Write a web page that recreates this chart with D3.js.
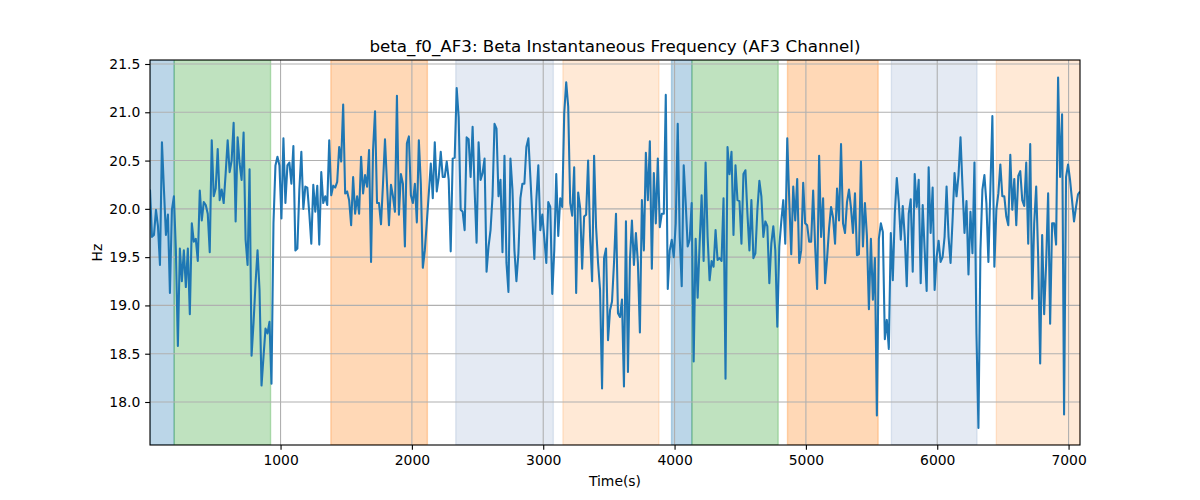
<!DOCTYPE html>
<html><head><meta charset="utf-8">
<script src="https://cdn.jsdelivr.net/npm/d3@7"></script>
<style>body{margin:0;background:#fff} text{font-family:"DejaVu Sans",sans-serif;fill:#000}</style>
</head><body><svg id="c" width="1200" height="500"></svg>
<script>
const TITLE = "beta_f0_AF3: Beta Instantaneous Frequency (AF3 Channel)";
const X_LABEL = "Time(s)";
const Y_LABEL = "Hz";
const T_START = 6, T_END = 7087;
const freq = [
20.20,19.71,19.73,19.99,19.82,19.42,20.69,20.20,19.73,19.94,
19.13,19.99,20.13,19.57,18.58,19.59,19.25,19.57,19.19,19.59,
18.91,19.85,19.66,19.69,19.46,20.19,19.88,20.07,20.04,19.95,
19.55,20.71,20.13,20.21,20.62,20.09,20.20,20.06,20.37,20.71,
20.38,20.50,20.89,19.87,20.74,20.47,20.30,20.79,19.68,19.42,
20.41,18.48,18.82,19.23,19.57,19.16,18.17,18.47,18.76,18.71,
18.83,18.19,19.85,20.45,20.54,20.45,19.90,20.73,20.06,20.45,
20.48,20.26,20.65,19.57,19.59,20.20,20.59,20.00,20.23,20.22,
19.95,19.64,20.25,19.97,20.24,19.63,20.38,20.06,20.13,20.04,
20.71,20.14,20.24,20.22,20.28,20.64,
20.49,21.08,20.16,20.18,20.09,19.83,20.33,19.95,20.13,19.95,
20.54,20.16,20.35,20.23,20.61,19.45,20.61,21.01,20.06,20.06,
19.84,20.26,20.72,20.26,19.83,20.25,20.13,19.97,21.17,19.94,
20.36,20.26,19.61,20.68,20.75,20.14,20.06,20.26,19.86,20.71,
20.26,19.39,19.57,19.86,20.16,20.47,20.11,20.69,20.18,20.33,
20.59,20.33,20.33,20.49,20.30,19.56,20.52,20.53,21.25,20.95,
19.99,19.97,19.78,20.74,20.72,20.33,20.85,20.20,19.65,20.69,
20.30,20.37,20.52,19.35,19.61,19.78,20.13,20.88,20.83,20.13,
20.30,19.55,20.55,19.44,19.14,20.52,20.20,19.57,19.25,19.54,
20.11,20.26,20.26,20.64,20.73,
20.33,19.92,19.48,20.09,20.45,19.78,19.94,19.70,19.44,20.07,
20.02,19.12,19.57,20.36,19.72,20.11,20.02,20.99,21.31,21.06,
20.06,19.93,20.43,19.13,20.17,20.01,19.38,19.92,19.94,20.50,
19.71,19.25,20.55,19.81,19.44,19.16,18.14,19.49,19.59,18.64,
18.95,19.04,19.44,19.95,18.92,18.88,19.06,18.16,19.87,18.31,
19.47,19.88,19.42,19.75,19.44,18.72,20.09,19.57,20.58,20.09,
20.70,19.38,20.37,19.85,20.52,19.81,19.95,19.95,21.18,19.17,
19.57,19.68,19.50,19.85,20.88,19.71,19.20,20.45,20.06,19.61,
19.68,20.06,18.42,19.69,19.08,19.64,20.14,19.46,20.48,19.71,
19.26,19.46,19.40,19.78,19.47,
19.49,19.46,20.11,18.24,20.64,20.36,20.59,19.73,20.45,20.09,
20.08,19.64,20.36,20.40,19.95,19.57,20.09,19.49,19.54,19.99,
20.29,20.13,19.71,19.87,19.82,19.23,19.64,19.82,19.57,18.78,
19.61,19.87,20.09,19.64,20.73,20.09,19.53,20.23,19.88,20.31,
19.44,19.57,20.27,19.85,19.83,19.66,19.66,20.19,19.61,19.17,
20.55,19.71,20.11,19.23,19.49,19.80,20.02,19.91,19.64,20.21,
19.88,20.67,19.85,19.75,20.07,20.20,20.01,19.75,20.16,19.52,
19.53,20.49,19.61,20.06,19.72,18.96,19.69,19.06,19.49,17.86,
19.69,19.85,19.76,18.65,18.85,18.55,19.75,19.26,19.95,20.32,
20.07,19.68,20.03,19.71,19.20,
19.95,20.10,19.35,20.36,20.02,20.30,19.23,20.04,19.57,19.15,
20.43,19.75,20.22,19.16,19.50,19.67,19.45,19.50,19.71,20.23,
19.71,19.44,19.88,20.37,20.13,20.35,20.74,20.23,19.75,20.08,
19.32,19.97,19.54,20.48,18.71,17.73,19.57,20.20,20.35,20.06,
19.45,20.21,20.96,19.40,19.99,20.16,20.46,20.13,20.13,19.92,
19.83,20.56,19.99,20.31,19.83,20.34,20.39,20.09,20.03,20.48,
19.64,20.67,19.07,19.85,20.23,19.50,18.40,19.73,18.91,19.44,
20.16,18.81,19.85,19.85,19.63,21.36,20.33,20.98,17.87,20.33,
20.46,20.30,20.09,19.87,20.02,20.15,20.18
];
const STEP = (T_END - T_START) / (freq.length - 1);
const times = freq.map((_, i) => T_START + i * STEP);

const spanStarts = [6, 190, 1383, 2334, 3150, 3977, 4132, 4860, 5651, 6450];
const spanEnds   = [190, 924, 2118, 3077, 3881, 4132, 4789, 5550, 6303, 7087];
const spanColors = ["#1f77b4","#2ca02c","#ff7f0e","#4c72b0","#ff7f0e","#1f77b4","#2ca02c","#ff7f0e","#4c72b0","#ff7f0e"];
const spanAlphas = [0.3,0.3,0.3,0.15,0.17,0.3,0.3,0.3,0.15,0.17];

const xTicks = [1000,2000,3000,4000,5000,6000,7000];
const yTicks = [18.0,18.5,19.0,19.5,20.0,20.5,21.0,21.5];

const L=150, R=1080, T=60, B=445;
const svg = d3.select("#c");
const x = d3.scaleLinear().domain([T_START, T_END]).range([L, R]);
const y = d3.scaleLinear().domain([17.5547, 21.5414]).range([B, T]);

svg.append("defs").append("clipPath").attr("id","clip")
  .append("rect").attr("x",L).attr("y",T).attr("width",R-L).attr("height",B-T);

const g = svg.append("g").attr("clip-path","url(#clip)");
spanStarts.forEach((s,i)=>{
  g.append("rect").attr("x",x(s)).attr("y",T).attr("width",x(spanEnds[i])-x(s)).attr("height",B-T)
   .attr("fill",spanColors[i]).attr("fill-opacity",spanAlphas[i])
   .attr("stroke",spanColors[i]).attr("stroke-opacity",spanAlphas[i]).attr("stroke-width",1.39);
});
// grid
xTicks.forEach(t=>g.append("line").attr("x1",x(t)).attr("x2",x(t)).attr("y1",T).attr("y2",B)
  .attr("stroke","#b0b0b0").attr("stroke-width",1.11));
yTicks.forEach(t=>g.append("line").attr("x1",L).attr("x2",R).attr("y1",y(t)).attr("y2",y(t))
  .attr("stroke","#b0b0b0").attr("stroke-width",1.11));

const line = d3.line().x((d,i)=>x(times[i])).y(d=>y(d));
g.append("path").datum(freq).attr("d",line).attr("fill","none")
  .attr("stroke","#1f77b4").attr("stroke-width",2.08).attr("stroke-linejoin","round");

// axes
const xAxis = d3.axisBottom(x).tickValues(xTicks).tickFormat(d3.format("d")).tickSize(4.86).tickPadding(4.86);
const yAxis = d3.axisLeft(y).tickValues(yTicks).tickFormat(d3.format(".1f")).tickSize(4.86).tickPadding(4.86);
const gx = svg.append("g").attr("transform",`translate(0,${B})`).call(xAxis);
const gy = svg.append("g").attr("transform",`translate(${L},0)`).call(yAxis);
[gx,gy].forEach(a=>{
  a.select(".domain").remove();
  a.selectAll(".tick line").attr("stroke","#000").attr("stroke-width",1.11);
  a.selectAll(".tick text").attr("font-size","13.9px").attr("font-family","DejaVu Sans").attr("fill","#000");
});
svg.append("rect").attr("x",L).attr("y",T).attr("width",R-L).attr("height",B-T)
  .attr("fill","none").attr("stroke","#000").attr("stroke-width",1.11);

svg.append("text").attr("x",(L+R)/2).attr("y",52).attr("text-anchor","middle")
  .attr("font-size","16.7px").text(TITLE);
svg.append("text").attr("x",(L+R)/2).attr("y",486).attr("text-anchor","middle")
  .attr("font-size","13.9px").text(X_LABEL);
svg.append("text").attr("transform",`translate(102,${(T+B)/2}) rotate(-90)`).attr("text-anchor","middle")
  .attr("font-size","13.9px").text(Y_LABEL);
</script></body></html>
